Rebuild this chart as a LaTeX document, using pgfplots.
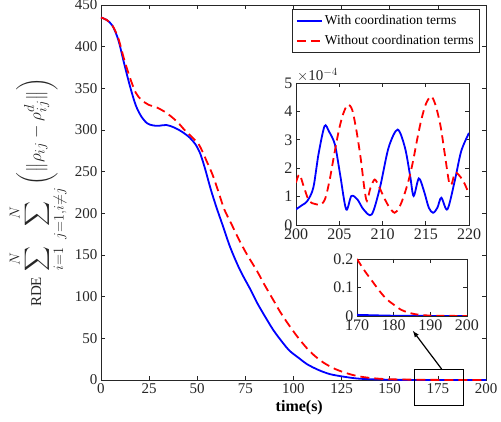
\documentclass[border=0pt]{standalone}
\usepackage{amsmath}
\usepackage{exscale}
\usepackage{fontspec}
\setmainfont{Liberation Serif}
\usepackage{pgfplots}
\pgfplotsset{compat=1.18}
\usetikzlibrary{calc}

\definecolor{mblue}{RGB}{0,0,255}
\definecolor{mred}{RGB}{255,0,0}
\definecolor{tickgray}{RGB}{38,38,38}

\pgfplotsset{
  mstyle/.style={
    scale only axis,
    axis line style={line width=0.8pt, tickgray},
    every tick/.style={tickgray, line width=0.6pt},
    tick label style={font=\fontsize{15}{17}\selectfont, text=tickgray},
    /pgf/number format/assume math mode=true,
    axis background/.style={fill=white},
  },
  withc/.style={mblue, line width=1.8pt, smooth},
  woc/.style={mred, line width=1.8pt, smooth, dash pattern=on 9pt off 5pt},
}

\begin{document}
\begin{tikzpicture}
\begin{axis}[
  name=main,
  mstyle,
  width=385pt, height=375pt,
  xmin=0, xmax=200, ymin=0, ymax=450,
  xtick={0,25,...,200},
  ytick={0,50,...,450},
  clip=false,
  xlabel={\textbf{time(s)}},
  xlabel style={font=\fontsize{16}{18}\selectfont, at={(rel axis cs:0.515,0)}, anchor=center, yshift=-28pt},
  ylabel={{\fontsize{15}{17}\selectfont RDE}\;$\displaystyle\sum_{i=1}^{N}\;\sum_{j=1,i\neq j}^{N}\,\biggl(\bigl\|\rho_{ij}-\rho_{ij}^{d}\bigr\|\biggr)$},
  ylabel style={font=\fontsize{19}{21}\selectfont, text=tickgray},
  legend style={font=\fontsize{13.5}{15}\selectfont, at={(rel axis cs:0.984,0.989)}, anchor=north east,
    draw=tickgray, line width=0.6pt, inner sep=4pt, row sep=5pt},
  legend cell align=left,
  legend image code/.code={\draw[#1] (0pt,0pt) -- (25pt,0pt);},
]
\addplot[withc] coordinates {
  (0,435) (3,432) (6,425) (9,408) (12,380) (15,353) (18,330) (21,316) (24,308)
  (27,305.5) (30,305) (34,306) (38,303) (42,298) (46,291) (49,283) (51.5,272)
  (54,254) (57,229) (60,207) (63,187) (67,160) (71,138) (74,124) (78,107)
  (81,93) (85,77) (89.5,60) (94,46) (98,35) (103,26) (107,19) (113,12)
  (119,7) (126,4) (133,1.8) (140,0.9) (150,0.3) (165,0.05) (200,0)
};
\addlegendentry{With coordination terms}
\addplot[woc] coordinates {
  (0,435) (3,432) (6,425) (9,410) (12,385) (15,363) (18,345) (21,336) (25,330)
  (29,327) (33,322) (36,317) (40,309) (43,301) (47,292) (51,282) (55,262)
  (58,246) (61,226) (64,205) (68,186) (72,167) (76,150) (81,131) (85,114)
  (89.5,96) (93,82) (97,68) (102,52) (107,38) (111,29) (115.5,21) (120,15)
  (124,11) (130,6.5) (136,3.6) (143,1.8) (150,0.9) (160,0.45) (170,0.2)
  (180,0.04) (190,0.003) (200,0)
};
\addlegendentry{Without coordination terms}
\draw[black, line width=0.8pt] (axis cs:163,13) rectangle (axis cs:188,-31);
\draw[black, line width=1.2pt, -{latex}] (axis cs:177,13) -- (axis cs:162,59);
\end{axis}

% inset: 200-220 s
\begin{axis}[
  mstyle,
  at={($(main.south west)+(195pt,155pt)$)}, anchor=south west,
  width=173pt, height=142pt,
  xmin=200, xmax=220, ymin=0, ymax=5,
  xtick={200,205,...,220}, ytick={0,1,...,5},
  tick label style={font=\fontsize{16}{18}\selectfont, text=tickgray},
  clip mode=individual,
]
\addplot[withc] coordinates {
  (200,0.55) (200.7,0.7) (201.3,0.84) (202.0,1.31) (202.6,2.49) (203.3,3.48)
  (203.8,3.30) (204.5,2.83) (205.1,1.78) (205.8,0.55) (206.4,1.02) (207.1,0.90)
  (207.8,0.55) (208.75,0.37) (209.7,1.31) (210.7,2.72) (211.75,3.36) (212.6,2.72)
  (213.2,1.72) (213.6,1.02) (214.2,1.64) (214.8,1.19) (215.35,0.61) (215.85,0.43)
  (216.35,0.61) (216.8,0.96) (217.5,0.55) (218.35,1.55) (219.1,2.60) (220,3.24)
};
\addplot[woc, dash pattern=on 8pt off 5pt] coordinates {
  (200,1.49) (200.4,1.78) (200.9,1.35) (201.5,0.85) (202.2,0.74) (202.9,0.72)
  (203.4,0.95) (203.9,1.6) (204.4,2.45) (205.0,3.4) (205.5,3.95) (206.0,4.24)
  (206.5,4.05) (207.0,3.3) (207.5,2.3) (207.9,1.3) (208.2,0.85) (208.6,1.3)
  (209.1,1.6) (209.6,1.35) (210.2,0.95) (210.8,0.62) (211.4,0.43) (211.9,0.6)
  (212.4,0.96) (213.0,1.55) (213.5,2.2) (214.0,3.0) (214.5,3.72) (215.0,4.25)
  (215.6,4.53) (216.1,4.25) (216.7,3.5) (217.2,2.5) (217.7,1.5) (218.0,1.45)
  (218.4,1.84) (219.0,1.7) (219.5,1.45) (220,1.08)
};
\node[anchor=south west, font=\fontsize{15}{17}\selectfont, text=tickgray, inner sep=1pt]
  at (rel axis cs:0,1) {$\times$10$^{-4}$};
\end{axis}

% inset: 170-200 s
\begin{axis}[
  mstyle,
  at={($(main.south west)+(256pt,64pt)$)}, anchor=south west,
  width=110pt, height=57pt,
  xmin=170, xmax=200, ymin=0, ymax=0.2,
  xtick={170,180,190,200}, ytick={0,0.1,0.2},
  tick label style={font=\fontsize{16}{18}\selectfont, text=tickgray},
  clip mode=individual,
]
\addplot[withc] coordinates {(170,0.004) (180,0.001) (190,0.0003) (200,0)};
\addplot[woc, dash pattern=on 8pt off 5pt] coordinates {
  (170,0.2) (172,0.16) (174,0.125) (176,0.09) (178,0.06) (180,0.04) (182,0.022)
  (184,0.012) (186,0.006) (188,0.003) (190,0.0015) (195,0.0005) (200,0.0001)
};
\end{axis}

\pgfresetboundingbox
\path ([xshift=-101pt,yshift=-42pt]main.south west) rectangle ([xshift=15pt,yshift=5pt]main.north east);
\end{tikzpicture}
\end{document}
